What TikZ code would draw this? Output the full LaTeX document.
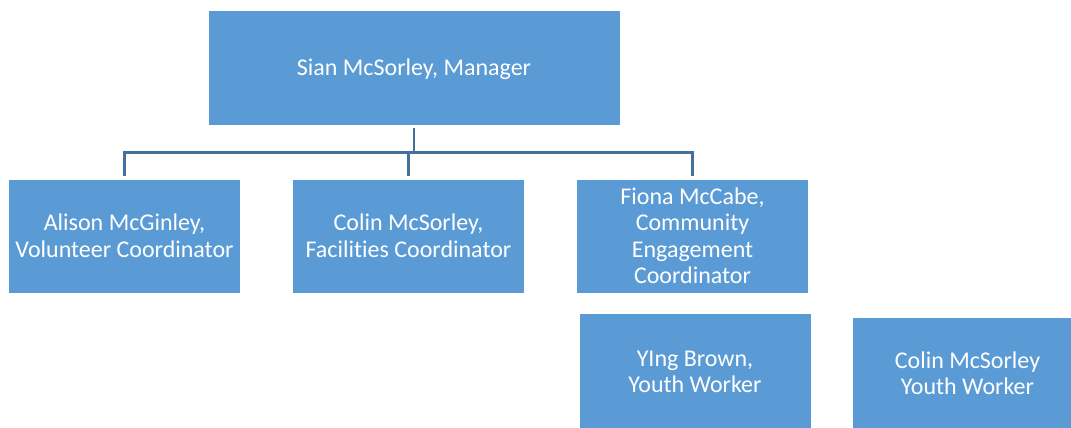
\documentclass[tikz,border=0pt]{standalone}
\usepackage{fontspec}
\setmainfont{Carlito}[Ligatures=NoCommon]
\definecolor{boxblue}{HTML}{5B9BD5}
\definecolor{linkblue}{HTML}{41719C}
\begin{document}
\begin{tikzpicture}[x=1pt, y=-1pt,
  box/.style={rectangle, fill=boxblue, draw=white, line width=0.6pt,
    text=white, align=center, inner sep=2pt,
    font=\fontsize{24}{26.5}\selectfont},
  conn/.style={draw=linkblue, line width=2.6pt, shorten <=3pt, shorten >=3pt}]
\useasboundingbox (0,0) rectangle (1071,428);
\clip (0,0) rectangle (1071,428);
\fill[white] (0,0) rectangle (1071,428);
% manager
\node[box, minimum width=412pt, minimum height=115pt] (mgr) at (414,67.5) {};
\node[box, fill=none, draw=none] (mgrtext) at (414,69.5) {Sian McSorley, Manager};
% coordinators
\node[box, minimum width=232pt, minimum height=114pt] (vol) at (124.5,236) {Alison McGinley,\\Volunteer Coordinator};
\node[box, minimum width=232pt, minimum height=114pt] (fac) at (408.5,236) {Colin McSorley,\\Facilities Coordinator};
\node[box, minimum width=232pt, minimum height=114pt] (com) at (692.5,236) {Fiona McCabe,\\Community\\Engagement\\Coordinator};
% youth workers
\node[box, minimum width=232pt, minimum height=117pt] (yw1) at (695,372) {YIng Brown,\\Youth Worker};
\node[box, minimum width=231pt, minimum height=113pt] (yw2) at (967.5,373.5) {Colin McSorley\\Youth Worker};
% reporting lines
\draw[conn] (mgr.south) -- ++(0,27) -| (vol.north);
\draw[conn] (mgr.south) -- ++(0,27) -| (fac.north);
\draw[conn] (mgr.south) -- ++(0,27) -| (com.north);
\end{tikzpicture}
\end{document}
